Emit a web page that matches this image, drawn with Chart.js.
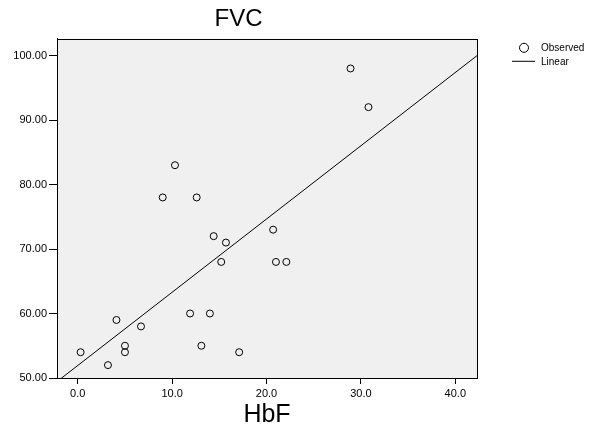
<!DOCTYPE html>
<html>
<head>
<meta charset="utf-8">
<script src="https://cdn.jsdelivr.net/npm/chart.js@4/dist/chart.umd.min.js"></script>
<style>
  body { margin: 0; background: #fff; }
  canvas { display: block; }
</style>
</head>
<body>
<canvas id="chart" width="593" height="430"></canvas>
<script>
// HbF (x) vs FVC (y), one entry per subject
const hbf = [0.3, 3.2, 4.1, 5.0, 5.0, 6.7, 9.0, 10.3, 11.9, 12.6, 13.1, 14.0, 14.4, 15.2, 15.7, 17.1, 20.7, 21.0, 22.1, 28.9, 30.8];
const fvc = [54, 52, 59, 55, 54, 58, 78, 83, 60, 78, 55, 60, 72, 68, 71, 54, 73, 68, 68, 98, 92];

const xTicks = [0, 10, 20, 30, 40];
const yTicks = [50, 60, 70, 80, 90, 100];
const xRange = [-2.2, 42.3];
const yRange = [50, 102.6];

// least squares fit for the "Linear" line
function linearFit(xs, ys) {
  const n = xs.length;
  const mx = xs.reduce((a, b) => a + b, 0) / n;
  const my = ys.reduce((a, b) => a + b, 0) / n;
  let sxy = 0, sxx = 0;
  for (let i = 0; i < n; i++) {
    sxy += (xs[i] - mx) * (ys[i] - my);
    sxx += (xs[i] - mx) * (xs[i] - mx);
  }
  const slope = sxy / sxx;
  return { slope: slope, intercept: my - slope * mx };
}

const fit = linearFit(hbf, fvc);
const observed = hbf.map((x, i) => ({ x: x, y: fvc[i] }));
const linear = xRange.map(x => ({ x: x, y: fit.intercept + fit.slope * x }));

const font = "'Liberation Sans', Arial, sans-serif";

// grey plot background and frame
const plotFrame = {
  id: "plotFrame",
  beforeDraw(chart) {
    const { ctx, chartArea: a } = chart;
    ctx.save();
    ctx.fillStyle = "#f0f0f0";
    ctx.fillRect(a.left, a.top, a.right - a.left, a.bottom - a.top);
    ctx.restore();
  },
  afterDraw(chart) {
    const { ctx, chartArea: a } = chart;
    ctx.save();
    ctx.strokeStyle = "#000";
    ctx.lineWidth = 1;
    ctx.strokeRect(Math.round(a.left) + 0.5, Math.round(a.top) + 0.5,
      Math.round(a.right - a.left), Math.round(a.bottom - a.top));
    ctx.restore();
  }
};

// small legend on the right, like the SPSS one
const sideLegend = {
  id: "sideLegend",
  afterDraw(chart) {
    const { ctx, chartArea: a } = chart;
    const x0 = a.right + 35;
    ctx.save();
    ctx.font = "10px " + font;
    ctx.fillStyle = "#000";
    ctx.strokeStyle = "#000";
    ctx.lineWidth = 1;
    ctx.textBaseline = "middle";

    ctx.beginPath();
    ctx.arc(x0 + 12, a.top + 9, 4.5, 0, Math.PI * 2);
    ctx.stroke();
    ctx.fillText(chart.data.datasets[0].label, x0 + 29, a.top + 9);

    ctx.beginPath();
    ctx.moveTo(x0, a.top + 22.5);
    ctx.lineTo(x0 + 23, a.top + 22.5);
    ctx.stroke();
    ctx.fillText(chart.data.datasets[1].label, x0 + 29, a.top + 23);
    ctx.restore();
  }
};

new Chart(document.getElementById("chart"), {
  type: "scatter",
  data: {
    datasets: [
      {
        label: "Observed",
        data: observed,
        pointRadius: 3.5,
        pointHoverRadius: 3.5,
        borderColor: "#000",
        borderWidth: 1,
        backgroundColor: "transparent"
      },
      {
        label: "Linear",
        data: linear,
        showLine: true,
        pointRadius: 0,
        borderColor: "#000",
        borderWidth: 1
      }
    ]
  },
  options: {
    responsive: false,
    animation: false,
    layout: { padding: { top: 0, right: 116, bottom: 0, left: 0 } },
    plugins: {
      legend: { display: false },
      tooltip: { enabled: false },
      title: {
        display: true,
        text: "FVC",
        color: "#000",
        font: { family: font, size: 24, weight: "normal" },
        padding: { top: 5, bottom: 5 }
      }
    },
    scales: {
      x: {
        type: "linear",
        min: xRange[0],
        max: xRange[1],
        afterBuildTicks: s => { s.ticks = xTicks.map(v => ({ value: v })); },
        afterFit: s => { s.height = 52; },
        grid: { drawOnChartArea: false, tickLength: 6, color: "#000" },
        border: { color: "#000" },
        ticks: {
          color: "#000",
          padding: 3,
          font: { family: font, size: 11 },
          callback: v => v.toFixed(1)
        },
        title: {
          display: true,
          text: "HbF",
          color: "#000",
          font: { family: font, size: 25 },
          padding: { top: 0, bottom: 0 }
        }
      },
      y: {
        type: "linear",
        min: yRange[0],
        max: yRange[1],
        afterBuildTicks: s => { s.ticks = yTicks.map(v => ({ value: v })); },
        afterFit: s => { s.width = 57; },
        grid: { drawOnChartArea: false, tickLength: 8, color: "#000" },
        border: { color: "#000" },
        ticks: {
          color: "#000",
          padding: 2,
          font: { family: font, size: 11 },
          callback: v => v.toFixed(2)
        }
      }
    }
  },
  plugins: [plotFrame, sideLegend]
});
</script>
</body>
</html>
